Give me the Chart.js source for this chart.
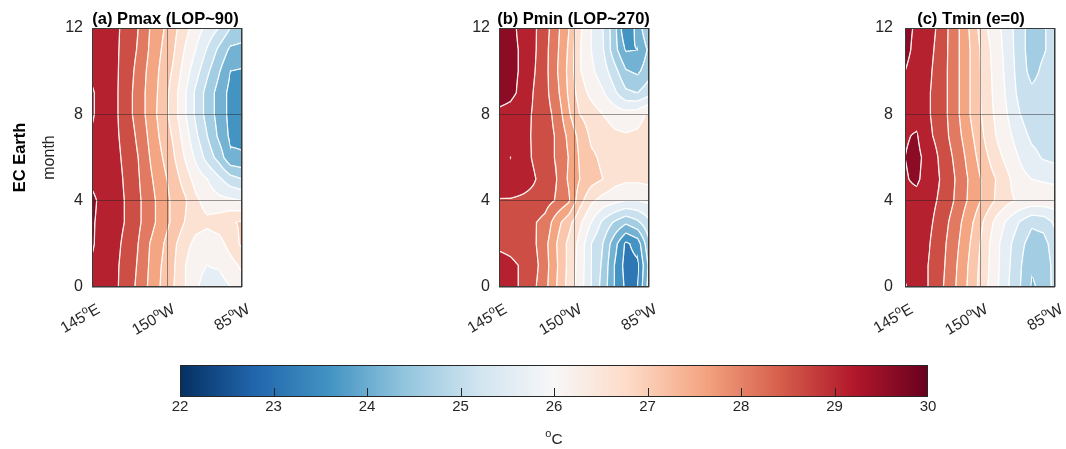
<!DOCTYPE html>
<html lang="en">
<head>
<meta charset="UTF-8">
<title>EC Earth SST month-longitude sections</title>
<script src="https://cdn.jsdelivr.net/npm/chart.js"></script>
<style>
  body { margin: 0; background: #fff; width: 1066px; height: 449px; position: relative; overflow: hidden; }
  canvas { position: absolute; }
</style>
</head>
<body>
<canvas id="panelA" width="253" height="340" style="left:0px;top:0px"></canvas>
<canvas id="panelB" width="253" height="340" style="left:407px;top:0px"></canvas>
<canvas id="panelC" width="253" height="340" style="left:813px;top:0px"></canvas>
<canvas id="cbar" width="1066" height="109" style="left:0px;top:340px"></canvas>
<script>
// equatorial longitudes (deg east) and months of the seasonal cycle
const LONS = [145, 155, 165, 175, 185, 195, 205, 215, 225, 235, 245, 255, 265, 275];
const MONTHS = [0, 1, 2, 3, 4, 5, 6, 7, 8, 9, 10, 11, 12];

// SST (degC), one row per month (0 -> 12), one value per longitude
const PMAX = [
  [29.5, 29.3, 29.1, 28.75, 28.4, 27.9, 27.45, 27.05, 26.55, 26.05, 25.85, 25.8, 26.0, 26.3],
  [29.45, 29.3, 29.1, 28.8, 28.45, 27.95, 27.5, 27.1, 26.55, 26.1, 26.0, 26.05, 26.3, 26.6],
  [29.55, 29.3, 29.15, 28.85, 28.5, 28.0, 27.6, 27.15, 26.7, 26.35, 26.25, 26.3, 26.7, 27.1],
  [29.55, 29.35, 29.2, 28.95, 28.6, 28.2, 27.8, 27.4, 27.0, 26.7, 26.6, 26.75, 26.95, 27.05],
  [29.6, 29.35, 29.2, 28.95, 28.6, 28.2, 27.8, 27.4, 27.1, 26.6, 26.3, 26.15, 26.1, 26.0],
  [29.4, 29.3, 29.2, 28.9, 28.55, 28.1, 27.7, 27.3, 26.8, 26.3, 26.0, 25.6, 25.2, 25.0],
  [29.4, 29.3, 29.15, 28.85, 28.5, 28.0, 27.55, 27.1, 26.5, 25.9, 25.3, 24.8, 24.1, 24.05],
  [29.45, 29.3, 29.1, 28.8, 28.4, 27.9, 27.4, 26.95, 26.3, 25.6, 25.0, 24.4, 23.9, 23.9],
  [29.55, 29.3, 29.1, 28.7, 28.3, 27.8, 27.3, 26.8, 26.1, 25.4, 24.8, 24.3, 23.85, 23.8],
  [29.55, 29.3, 29.1, 28.7, 28.3, 27.8, 27.35, 26.8, 26.1, 25.4, 24.8, 24.3, 23.85, 23.8],
  [29.4, 29.3, 29.1, 28.75, 28.35, 27.85, 27.4, 26.95, 26.3, 25.7, 25.1, 24.55, 24.0, 23.95],
  [29.45, 29.3, 29.1, 28.8, 28.45, 27.95, 27.5, 27.1, 26.5, 26.0, 25.45, 24.9, 24.4, 24.35],
  [29.5, 29.3, 29.1, 28.85, 28.5, 28.0, 27.6, 27.2, 26.7, 26.25, 25.85, 25.5, 25.0, 24.8]
];
const PMIN = [
  [29.2, 29.1, 28.95, 28.6, 28.15, 27.5, 26.85, 26.25, 25.5, 24.8, 24.0, 23.4, 23.5, 24.7],
  [29.2, 29.1, 28.95, 28.7, 28.2, 27.55, 26.9, 26.3, 25.5, 24.9, 24.0, 23.3, 23.4, 24.6],
  [28.9, 28.85, 28.75, 28.6, 28.15, 27.5, 26.9, 26.35, 25.5, 25.0, 24.2, 23.4, 23.7, 24.9],
  [28.8, 28.75, 28.65, 28.55, 28.35, 27.7, 27.2, 26.6, 26.0, 25.4, 24.95, 24.6, 24.9, 25.4],
  [28.95, 28.95, 28.9, 28.85, 28.7, 28.45, 28.1, 27.2, 26.6, 26.3, 26.15, 26.0, 26.0, 26.1],
  [29.45, 29.4, 29.25, 29.05, 28.8, 28.5, 27.95, 27.5, 27.2, 27.0, 26.7, 26.6, 26.6, 26.65],
  [29.45, 29.5, 29.2, 28.95, 28.7, 28.45, 28.0, 27.45, 27.1, 26.9, 26.75, 26.7, 26.75, 26.9],
  [29.4, 29.3, 29.15, 28.95, 28.7, 28.45, 27.9, 27.35, 26.9, 26.75, 26.6, 26.55, 26.6, 26.75],
  [29.4, 29.35, 29.2, 28.95, 28.7, 28.35, 27.6, 27.0, 26.75, 26.5, 26.3, 26.2, 26.3, 26.6],
  [29.7, 29.6, 29.4, 28.98, 28.65, 28.15, 27.45, 26.75, 26.35, 26.05, 25.6, 25.1, 25.0, 25.3],
  [29.75, 29.6, 29.45, 29.05, 28.65, 28.05, 27.4, 26.55, 26.1, 25.75, 25.2, 24.55, 24.4, 24.8],
  [29.75, 29.6, 29.45, 29.1, 28.65, 28.1, 27.45, 26.55, 26.0, 25.55, 24.7, 23.95, 24.0, 24.6],
  [29.75, 29.6, 29.4, 29.1, 28.7, 28.15, 27.55, 26.6, 26.0, 25.5, 24.7, 23.5, 24.2, 25.0]
];
const TMIN = [
  [29.55, 29.2, 29.0, 28.65, 28.2, 27.7, 27.15, 26.6, 26.05, 25.5, 25.0, 24.45, 24.6, 25.2],
  [29.35, 29.2, 29.0, 28.7, 28.25, 27.75, 27.2, 26.65, 26.1, 25.55, 25.05, 24.55, 24.65, 25.2],
  [29.3, 29.2, 29.05, 28.75, 28.3, 27.85, 27.3, 26.7, 26.1, 25.6, 25.15, 24.75, 24.8, 25.3],
  [29.3, 29.25, 29.1, 28.85, 28.4, 27.95, 27.45, 26.85, 26.3, 25.85, 25.45, 25.1, 25.2, 25.6],
  [29.35, 29.3, 29.15, 28.95, 28.6, 28.15, 27.75, 27.3, 26.9, 26.6, 26.4, 26.3, 26.3, 26.3],
  [29.45, 29.6, 29.25, 29.0, 28.65, 28.2, 27.75, 27.3, 26.95, 26.55, 26.15, 26.0, 25.95, 25.9],
  [29.5, 29.65, 29.3, 28.95, 28.55, 28.1, 27.6, 27.1, 26.65, 26.3, 25.95, 25.65, 25.45, 25.35],
  [29.45, 29.55, 29.1, 28.85, 28.4, 27.95, 27.45, 26.9, 26.45, 26.1, 25.7, 25.4, 25.3, 25.3],
  [29.4, 29.3, 29.05, 28.8, 28.35, 27.85, 27.3, 26.8, 26.35, 25.95, 25.5, 25.2, 25.2, 25.25],
  [29.4, 29.3, 29.05, 28.8, 28.35, 27.85, 27.3, 26.75, 26.3, 25.85, 25.3, 25.1, 25.2, 25.25],
  [29.5, 29.35, 29.1, 28.8, 28.35, 27.85, 27.3, 26.75, 26.25, 25.8, 25.2, 24.85, 25.1, 25.25],
  [29.6, 29.4, 29.15, 28.85, 28.35, 27.85, 27.3, 26.7, 26.2, 25.75, 25.15, 24.8, 24.95, 25.2],
  [29.6, 29.45, 29.2, 28.9, 28.35, 27.85, 27.2, 26.55, 26.15, 25.7, 25.15, 24.8, 24.95, 25.2]
];

const MONTH_TICKS = [0, 4, 8, 12];
const LON_TICKS = [145, 210, 275];
const LON_LABELS = [['145', 'E'], ['150', 'W'], ['85', 'W']];
const CBAR_TICKS = [22, 23, 24, 25, 26, 27, 28, 29, 30];
const LEVEL_STEP = 0.5;
const CMIN = 22, CMAX = 30;

// diverging red-blue map, evenly spaced from CMIN to CMAX
const RDBU = ['#053061', '#2166ac', '#4393c3', '#92c5de', '#d1e5f0', '#f7f7f7',
              '#fddbc7', '#f4a582', '#d6604d', '#b2182b', '#67001f'];

const FAMILY = '"Liberation Sans", Arial, Helvetica, sans-serif';
const TEXT = '#262626';
const GRID = 'rgba(30,30,30,0.45)';

const rgbStops = RDBU.map(h => [1, 3, 5].map(i => parseInt(h.slice(i, i + 2), 16)));

function cmap(v) {
  let t = (v - CMIN) / (CMAX - CMIN);
  t = Math.min(1, Math.max(0, t)) * (rgbStops.length - 1);
  const i = Math.min(rgbStops.length - 2, Math.floor(t));
  const f = t - i;
  const a = rgbStops[i], b = rgbStops[i + 1];
  return [0, 1, 2].map(k => a[k] + (b[k] - a[k]) * f);
}

// bilinear lookup in a month x longitude table
function sample(grid, lon, month) {
  const fx = (lon - LONS[0]) / (LONS[1] - LONS[0]);
  const fy = month - MONTHS[0];
  const i = Math.min(LONS.length - 2, Math.max(0, Math.floor(fx)));
  const j = Math.min(MONTHS.length - 2, Math.max(0, Math.floor(fy)));
  const tx = Math.min(1, Math.max(0, fx - i)), ty = Math.min(1, Math.max(0, fy - j));
  const v00 = grid[j][i], v10 = grid[j][i + 1], v01 = grid[j + 1][i], v11 = grid[j + 1][i + 1];
  return (v00 * (1 - tx) + v10 * tx) * (1 - ty) + (v01 * (1 - tx) + v11 * tx) * ty;
}

// filled contours with white level lines, painted under the grid lines
const contourPlugin = {
  id: 'contourFill',
  beforeDatasetsDraw(chart, args, opts) {
    const { ctx, chartArea: a, scales: { x, y } } = chart;
    const w = Math.round(a.right - a.left), h = Math.round(a.bottom - a.top);
    const field = new Float32Array(w * h);
    for (let j = 0; j < h; j++) {
      const m = y.getValueForPixel(a.top + j + 0.5);
      for (let i = 0; i < w; i++) {
        field[j * w + i] = sample(opts.grid, x.getValueForPixel(a.left + i + 0.5), m);
      }
    }
    const off = document.createElement('canvas');
    off.width = w; off.height = h;
    const octx = off.getContext('2d');
    const img = octx.createImageData(w, h);
    for (let j = 0; j < h; j++) {
      for (let i = 0; i < w; i++) {
        const k = j * w + i, v = field[k];
        const c = cmap(Math.floor(v / LEVEL_STEP) * LEVEL_STEP + 0.1);
        const gx = (field[j * w + Math.min(w - 1, i + 1)] - field[j * w + Math.max(0, i - 1)]) / 2;
        const gy = (field[Math.min(h - 1, j + 1) * w + i] - field[Math.max(0, j - 1) * w + i]) / 2;
        const g = Math.max(1e-6, Math.hypot(gx, gy));
        const d = Math.abs(v - Math.round(v / LEVEL_STEP) * LEVEL_STEP) / g;
        const la = Math.min(1, Math.max(0, 1 - (d - 0.3) / 0.8)) * 0.9;
        img.data[k * 4] = c[0] + (255 - c[0]) * la;
        img.data[k * 4 + 1] = c[1] + (255 - c[1]) * la;
        img.data[k * 4 + 2] = c[2] + (255 - c[2]) * la;
        img.data[k * 4 + 3] = 255;
      }
    }
    octx.putImageData(img, 0, 0);
    ctx.drawImage(off, a.left, a.top);
  }
};

// longitude label with a raised small "o" as the degree mark
function degLabel(ctx, num, hemi, x, y, angle, size) {
  const big = size + 'px ' + FAMILY, small = Math.round(size * 0.68) + 'px ' + FAMILY;
  ctx.save();
  ctx.translate(x, y);
  ctx.rotate(angle);
  ctx.fillStyle = TEXT;
  ctx.textAlign = 'left';
  ctx.textBaseline = 'alphabetic';
  ctx.font = big;
  const w1 = ctx.measureText(num).width, w3 = ctx.measureText(hemi).width;
  ctx.font = small;
  const w2 = ctx.measureText('o').width;
  let cx = angle === 0 ? -(w1 + w2 + w3) / 2 : -(w1 + w2 + w3);
  ctx.font = big; ctx.fillText(num, cx, 0); cx += w1;
  ctx.font = small; ctx.fillText('o', cx, -size * 0.42); cx += w2;
  ctx.font = big; ctx.fillText(hemi, cx, 0);
  ctx.restore();
}

const panelDecor = {
  id: 'panelDecor',
  afterDraw(chart, args, opts) {
    const { ctx, chartArea: a, scales: { x } } = chart;
    ctx.save();
    ctx.strokeStyle = '#3a3a3a';
    ctx.lineWidth = 1;
    ctx.strokeRect(a.left + 0.5, a.top + 0.5, a.right - a.left - 1, a.bottom - a.top - 1);
    LON_TICKS.forEach((lon, i) => {
      const px = x.getPixelForValue(lon);
      degLabel(ctx, LON_LABELS[i][0], LON_LABELS[i][1], px + 9, a.bottom + 25, -Math.PI / 6, 15.5);
    });
    ctx.fillStyle = '#000';
    ctx.font = 'bold 16.5px ' + FAMILY;
    ctx.textAlign = 'center';
    ctx.textBaseline = 'alphabetic';
    ctx.fillText(opts.title, opts.titleX, 24);
    if (opts.rowLabel) {
      ctx.translate(20, (a.top + a.bottom) / 2);
      ctx.rotate(-Math.PI / 2);
      ctx.font = 'bold 16.5px ' + FAMILY;
      ctx.textBaseline = 'middle';
      ctx.fillText(opts.rowLabel, 0, 0);
    }
    ctx.restore();
  }
};

function makePanel(id, grid, title, titleX, rowLabel, tickPad) {
  const points = [];
  MONTHS.forEach((m, r) => LONS.forEach((lon, c) => points.push({ x: lon, y: m, v: grid[r][c] })));
  return new Chart(document.getElementById(id), {
    type: 'scatter',
    data: { datasets: [{ data: points, pointRadius: 0, pointHoverRadius: 0 }] },
    options: {
      responsive: false,
      animation: false,
      events: [],
      layout: { padding: { top: 28, right: 11, left: 0, bottom: 0 } },
      plugins: {
        legend: { display: false },
        tooltip: { enabled: false },
        contourFill: { grid },
        panelDecor: { title, titleX, rowLabel }
      },
      scales: {
        x: {
          type: 'linear', min: 145, max: 275,
          afterBuildTicks: s => { s.ticks = LON_TICKS.map(v => ({ value: v })); },
          afterFit: s => { s.height = 53; },
          ticks: { display: false },
          grid: { color: GRID, drawTicks: false, z: 1 },
          border: { display: false }
        },
        y: {
          type: 'linear', min: 0, max: 12,
          afterBuildTicks: s => { s.ticks = MONTH_TICKS.map(v => ({ value: v })); },
          afterFit: s => { s.width = 92; },
          ticks: { font: { size: 16, family: FAMILY }, color: TEXT, padding: tickPad },
          grid: { color: GRID, drawTicks: false, z: 1 },
          border: { display: false },
          title: {
            display: !!rowLabel, text: 'month', color: TEXT,
            font: { size: 16, family: FAMILY }, padding: { top: 40, bottom: 0 }
          }
        }
      }
    },
    plugins: [contourPlugin, panelDecor]
  });
}

makePanel('panelA', PMAX, '(a) Pmax (LOP~90)', 165.5, 'EC Earth', 9);
makePanel('panelB', PMIN, '(b) Pmin (LOP~270)', 166.5, '', 9);
makePanel('panelC', TMIN, '(c) Tmin (e=0)', 158, '', 12);

// colour scale bar
const colorbarPlugin = {
  id: 'colorbar',
  beforeDatasetsDraw(chart) {
    const { ctx, chartArea: a, scales: { x } } = chart;
    for (let px = Math.floor(a.left); px < a.right; px++) {
      const c = cmap(x.getValueForPixel(px + 0.5));
      ctx.fillStyle = 'rgb(' + c.map(Math.round).join(',') + ')';
      ctx.fillRect(px, a.top, 1, a.bottom - a.top);
    }
  },
  afterDraw(chart) {
    const { ctx, chartArea: a, scales: { x } } = chart;
    ctx.save();
    ctx.strokeStyle = TEXT;
    ctx.lineWidth = 1;
    CBAR_TICKS.slice(1, -1).forEach(v => {
      const px = Math.round(x.getPixelForValue(v)) + 0.5;
      ctx.beginPath();
      ctx.moveTo(px, a.bottom);
      ctx.lineTo(px, a.bottom - 9);
      ctx.stroke();
    });
    ctx.strokeRect(a.left + 0.5, a.top + 0.5, a.right - a.left - 1, a.bottom - a.top - 1);
    ctx.restore();
    degLabel(ctx, '', 'C', (a.left + a.right) / 2, 104, 0, 15.5);
  }
};

new Chart(document.getElementById('cbar'), {
  type: 'scatter',
  data: { datasets: [] },
  options: {
    responsive: false,
    animation: false,
    events: [],
    layout: { padding: { left: 180, right: 138, top: 25, bottom: 0 } },
    plugins: { legend: { display: false }, tooltip: { enabled: false } },
    scales: {
      x: {
        type: 'linear', min: CMIN, max: CMAX,
        afterBuildTicks: s => { s.ticks = CBAR_TICKS.map(v => ({ value: v })); },
        afterFit: s => { s.height = 52; },
        ticks: { font: { size: 15, family: FAMILY }, color: TEXT, padding: 1, callback: v => String(v) },
        grid: { display: false, drawTicks: false },
        border: { display: false }
      },
      y: { display: false, min: 0, max: 1 }
    }
  },
  plugins: [colorbarPlugin]
});
</script>
</body>
</html>
